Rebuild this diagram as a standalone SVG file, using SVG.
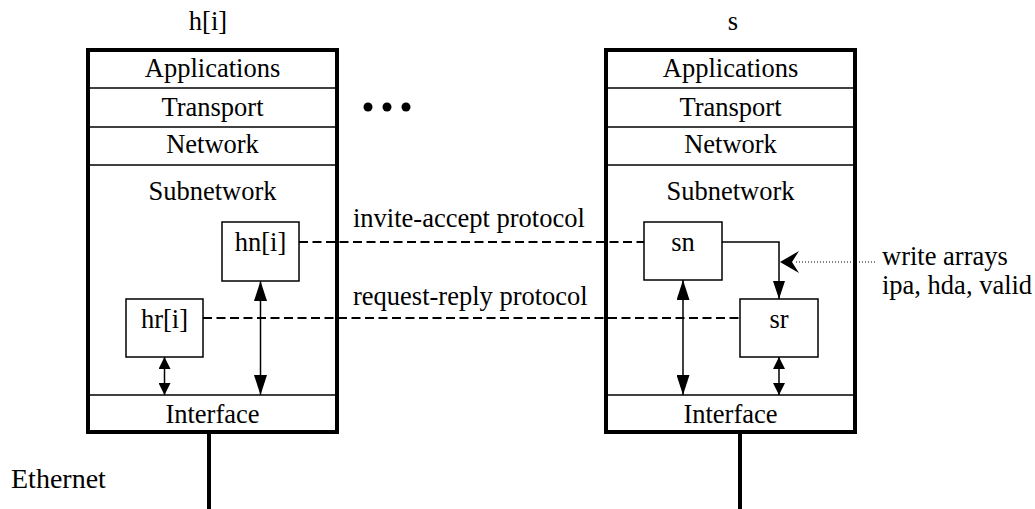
<svg xmlns="http://www.w3.org/2000/svg" width="1035" height="509" viewBox="0 0 1035 509">
<style>
text{font-family:"Liberation Serif","Times New Roman",serif;font-size:26.5px;fill:#000}
.c{text-anchor:middle}
.host{fill:#fff;stroke:#000;stroke-width:4}
.sep{stroke:#000;stroke-width:1.5}
.proc{fill:#fff;stroke:#000;stroke-width:1.5}
.wire{stroke:#000;stroke-width:4}
.dash{stroke:#000;stroke-width:1.8;stroke-dasharray:9 4.5;fill:none}
.arr{stroke:#000;stroke-width:1.5;fill:none}
.dot{stroke:#000;stroke-width:1;stroke-dasharray:1 2;fill:none}
</style>
<defs>
<marker id="big" markerUnits="userSpaceOnUse" markerWidth="20" markerHeight="13" refX="20" refY="6.5" orient="auto-start-reverse"><path d="M0,0 L20,6.5 L0,13 z" fill="#000"/></marker>
<marker id="mid" markerUnits="userSpaceOnUse" markerWidth="18" markerHeight="12" refX="18" refY="6" orient="auto-start-reverse"><path d="M0,0 L18,6 L0,12 z" fill="#000"/></marker>
<marker id="small" markerUnits="userSpaceOnUse" markerWidth="12" markerHeight="12" refX="12" refY="6" orient="auto-start-reverse"><path d="M0,0 L12,6 L0,12 z" fill="#000"/></marker>
</defs>
<rect width="1035" height="509" fill="#fff"/>

<g id="host-h">
<line class="wire" x1="209" y1="432" x2="209" y2="509"/>
<rect class="host" x="88" y="50" width="249" height="382"/>
<line class="sep" x1="88" y1="88" x2="337" y2="88"/>
<line class="sep" x1="88" y1="127" x2="337" y2="127"/>
<line class="sep" x1="88" y1="165" x2="337" y2="165"/>
<line class="sep" x1="88" y1="395" x2="337" y2="395"/>
<text class="c" x="208" y="30">h[i]</text>
<text class="c" x="212.5" y="77">Applications</text>
<text class="c" x="212.5" y="116">Transport</text>
<text class="c" x="212.5" y="153">Network</text>
<text class="c" x="212.5" y="200">Subnetwork</text>
<text class="c" x="212.5" y="423">Interface</text>
</g>

<g id="host-s">
<line class="wire" x1="740" y1="432" x2="740" y2="509"/>
<rect class="host" x="606" y="50" width="249" height="382"/>
<line class="sep" x1="606" y1="88" x2="855" y2="88"/>
<line class="sep" x1="606" y1="127" x2="855" y2="127"/>
<line class="sep" x1="606" y1="165" x2="855" y2="165"/>
<line class="sep" x1="606" y1="395" x2="855" y2="395"/>
<text class="c" x="733" y="30">s</text>
<text class="c" x="730.5" y="77">Applications</text>
<text class="c" x="730.5" y="116">Transport</text>
<text class="c" x="730.5" y="153">Network</text>
<text class="c" x="730.5" y="200">Subnetwork</text>
<text class="c" x="730.5" y="423">Interface</text>
</g>

<g id="ellipsis">
<circle cx="368" cy="107" r="4.5"/>
<circle cx="387" cy="107" r="4.5"/>
<circle cx="406" cy="107" r="4.5"/>
</g>

<g id="connectors">
<line class="dash" x1="299" y1="242" x2="644" y2="242"/>
<line class="dash" x1="203" y1="318" x2="740" y2="318"/>
<line class="arr" x1="260.5" y1="281" x2="260.5" y2="395" marker-start="url(#big)" marker-end="url(#big)"/>
<line class="arr" x1="164.5" y1="357" x2="164.5" y2="395" marker-start="url(#small)" marker-end="url(#small)"/>
<line class="arr" x1="683" y1="280" x2="683" y2="395" marker-start="url(#big)" marker-end="url(#big)"/>
<line class="arr" x1="779" y1="357" x2="779" y2="395" marker-start="url(#small)" marker-end="url(#small)"/>
<polyline class="arr" points="722,242 779,242 779,299" marker-end="url(#mid)"/>
<line class="dot" x1="875" y1="262" x2="794" y2="262"/>
<polygon points="780,262 799,251 792,262 799,273" fill="#000"/>
</g>

<g id="hn">
<rect class="proc" x="222" y="222" width="77" height="59"/>
<text class="c" x="260.5" y="251">hn[i]</text>
</g>
<g id="hr">
<rect class="proc" x="126" y="299" width="77" height="58"/>
<text class="c" x="164.5" y="328">hr[i]</text>
</g>
<g id="sn">
<rect class="proc" x="644" y="222" width="78" height="58"/>
<text class="c" x="683" y="251">sn</text>
</g>
<g id="sr">
<rect class="proc" x="740" y="299" width="78" height="58"/>
<text class="c" x="779" y="328">sr</text>
</g>

<g id="labels">
<text x="353" y="227">invite-accept protocol</text>
<text x="353" y="305">request-reply protocol</text>
<text x="882" y="265">write arrays</text>
<text x="882" y="294">ipa, hda, valid</text>
<text x="11" y="488" style="font-size:28px">Ethernet</text>
</g>
</svg>
